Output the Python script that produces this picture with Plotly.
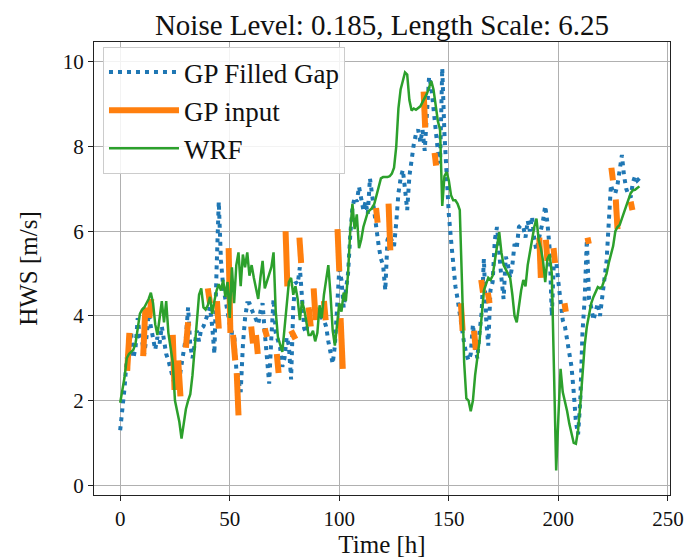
import plotly.graph_objects as go

# ---------------- data ----------------
gp_filled = [
    1.3, 1.75, 2.3, 3.0, 3.3, 3.6, 3.0, 3.25, 3.95, 3.5,
    3.4, 3.1, 3.5, 4.05, 3.75, 3.5, 3.2, 3.5, 3.35, 3.75,
    3.4, 3.1, 2.95, 2.75, 2.6, 2.35, 2.7, 2.5, 2.85, 3.2,
    3.5, 4.2, 3.3, 3.0, 3.3, 3.65, 3.4, 3.7, 3.75, 3.9,
    4.0, 4.2, 3.75, 3.1, 5.1, 6.7, 5.3, 4.7, 4.4, 4.05,
    3.8, 3.6, 3.6, 2.75, 2.45, 2.2, 3.3, 3.95, 4.3, 4.3,
    4.15, 4.05, 3.9, 3.8, 4.1, 4.3, 3.6, 3.0, 2.4, 3.5,
    4.4, 3.6, 3.4, 3.25, 2.8, 3.0, 3.5, 3.3, 2.5, 4.2,
    4.8, 4.75, 5.15, 4.45, 3.7, 3.6, 4.0, 4.15, 4.2, 4.2,
    4.1, 4.05, 3.95, 3.9, 3.75, 3.4, 3.15, 2.87, 3.3, 4.4,
    5.1, 4.85, 4.2, 4.6, 5.0, 5.9, 6.55, 6.8, 6.7, 7.05,
    6.8, 6.5, 6.7, 6.4, 7.25, 6.8, 6.5, 5.95, 5.65, 5.35,
    5.2, 4.6, 5.8, 5.9, 5.8, 5.65, 6.2, 6.9, 7.25, 7.45,
    7.0, 6.5, 7.3, 7.7, 8.05, 8.3, 8.4, 8.1, 8.4, 7.9,
    8.8, 9.65, 9.4, 8.9, 8.3, 7.9, 7.6, 9.85, 8.3, 7.2,
    6.4, 5.8, 5.2, 4.7, 4.4, 4.0, 3.6, 3.35, 3.1, 2.95,
    3.1, 3.8, 3.3, 3.0, 3.6, 4.1, 5.35, 3.95, 3.3, 4.6,
    4.8, 5.8, 6.1, 5.4, 4.9, 4.4, 5.4, 5.2, 4.9, 5.2,
    5.7, 5.6, 6.1, 6.15, 6.1, 5.85, 6.25, 6.0, 6.35, 5.8,
    5.55, 5.8, 6.0, 6.25, 6.6, 6.2, 5.6, 4.0, 5.35, 5.3,
    4.8, 4.3, 3.9, 3.75, 3.45, 3.1, 2.8, 2.2, 1.5, 1.2,
    2.0, 3.6, 4.4, 5.8, 4.4, 4.2, 3.9, 4.1, 4.3, 4.0,
    4.4, 4.8, 5.3, 6.2, 7.1, 6.9, 6.9, 7.1, 7.4, 7.8,
    7.3, 7.0, 6.85, 6.8, 7.15, 7.3, 7.2, 7.25,
]

wrf = [
    1.95, 2.25, 2.55, 3.0, 3.1, 3.15, 3.2, 3.35, 3.7, 4.05,
    4.15, 4.2, 4.3, 4.4, 4.55, 4.3, 3.8, 3.55, 3.95, 4.35,
    3.85, 4.35, 3.6, 3.2, 2.9, 2.0, 1.75, 1.5, 1.1, 1.5,
    1.8, 2.0, 2.15, 2.6, 3.2, 3.75, 4.5, 4.65, 4.2, 4.15,
    4.25, 4.45, 4.05, 4.35, 4.6, 4.75, 4.6, 4.85, 4.45, 4.8,
    3.95, 5.15, 4.3, 5.2, 5.5, 4.7, 5.45, 5.15, 5.5, 4.95,
    5.2, 4.9, 4.6, 4.4, 4.9, 5.3, 4.65, 4.8, 5.0, 5.15,
    5.5, 4.1, 3.5, 3.3, 3.15, 3.7, 4.2, 4.8, 4.9, 4.5,
    4.7, 4.4, 3.9, 4.35, 4.15, 3.85, 3.55, 3.55, 3.65, 3.4,
    3.6, 4.25, 3.95, 4.5, 4.9, 5.2, 4.5, 3.65, 3.3, 3.8,
    4.3, 4.1, 4.55, 4.35, 5.0, 6.0, 6.65, 6.05, 6.4, 5.6,
    5.8, 6.1, 6.3, 6.45, 6.5, 6.55, 6.65, 6.85, 7.1, 7.25,
    7.28, 7.28, 7.28, 7.3, 7.36, 7.5, 8.0, 8.9, 9.35, 9.55,
    9.75, 9.7, 9.1, 8.85, 8.9, 8.87, 8.9, 8.95, 9.05, 9.15,
    9.25, 9.4, 9.55, 9.35, 9.0, 8.6, 8.4, 6.6, 7.3, 7.4,
    7.2, 6.85, 6.73, 6.73, 6.65, 6.5, 4.8, 2.9, 2.05, 2.0,
    1.75, 2.0, 2.6, 3.0, 3.4, 4.0, 4.6, 4.75, 4.9, 4.85,
    4.95, 5.3, 5.7, 5.98, 5.5, 5.2, 5.1, 5.0, 4.9, 4.5,
    4.0, 3.85, 4.3, 4.6, 4.85, 4.7, 5.2, 5.5, 5.9, 6.1,
    6.3, 5.8, 5.6, 5.3, 4.8, 5.35, 5.45, 5.0, 2.7, 0.35,
    1.6, 2.75, 2.2, 2.0, 1.75, 1.45, 1.2, 1.0, 0.98, 1.3,
    1.9, 2.7, 3.3, 3.75, 4.05, 4.3, 4.45, 4.55, 4.68, 4.65,
    4.7, 4.85, 5.0, 5.25, 5.45, 5.65, 6.0, 6.1, 6.15, 6.3,
    6.45, 6.6, 6.8, 6.9, 6.97, 6.98, 7.02, 7.06,
]

# GP input: short observed pieces (time [h], value [m/s]); None marks a gap
gp_input_t = [
    3.2, 4.2, None, 10.5, 11.5, None, 13.3, 14.2, None, 24.0, 24.8, None,
    26.5, 27.5, None, 30.0, 31.0, None, 40.0, 41.0, None, 44.2, 45.0, None,
    49.5, 50.3, None, 51.5, 52.5, None, 53.2, 54.0, None, 59.8, 60.6, None,
    62.0, 62.8, None, 66.0, 67.0, None, 71.5, 72.3, None, 75.5, 76.3, None,
    78.0, 80.0, None, 81.8, 82.6, None, 86.0, 87.0, None, 88.3, 89.2, None,
    93.0, 93.8, None, 99.2, 100.0, None, 100.6, 101.6, None, 116.8, 117.5, None,
    122.5, 123.3, None, 138.5, 139.2, None, 143.5, 144.2, None, 155.5, 156.3, None,
    161.5, 162.3, None, 164.8, 165.6, None, 167.8, 168.6, None, 191.3, 192.0, None,
    194.3, 195.0, None, 197.8, 198.5, None, 202.8, 203.4, None, 213.3, 213.9, None,
    224.2, 224.9, None, 226.2, 227.0, None, 233.0, 233.8,
]
gp_input_v = [
    2.7, 3.6, None, 3.05, 4.2, None, 3.95, 4.4, None, 3.55, 2.25, None,
    2.95, 2.1, None, 3.25, 3.85, None, 4.65, 4.3, None, 4.35, 3.7, None,
    5.6, 3.6, None, 3.55, 2.95, None, 2.65, 1.65, None, 3.75, 3.35, None,
    3.55, 3.1, None, 3.7, 3.5, None, 3.1, 2.65, None, 6.0, 4.7, None,
    3.65, 3.45, None, 5.85, 5.25, None, 4.2, 3.75, None, 4.65, 3.9, None,
    4.35, 3.9, None, 6.05, 5.05, None, 3.95, 2.75, None, 6.55, 6.2, None,
    6.65, 5.55, None, 9.3, 8.45, None, 7.85, 7.55, None, 4.3, 3.65, None,
    3.65, 3.2, None, 4.85, 4.55, None, 4.55, 4.3, None, 5.85, 4.9, None,
    5.8, 5.3, None, 5.6, 5.25, None, 4.3, 4.1, None, 5.85, 5.7, None,
    7.5, 7.2, None, 6.75, 6.05, None, 6.7, 6.5,
]

hours = list(range(len(wrf)))

x_ticks = [0, 50, 100, 150, 200, 250]
y_ticks = [0, 2, 4, 6, 8, 10]

title_text = "Noise Level: 0.185, Length Scale: 6.25"

# ---------------- figure ----------------
SERIF = "Liberation Serif, Times New Roman, serif"

fig = go.Figure()
fig.add_trace(go.Scatter(
    x=hours, y=gp_filled, mode="lines", name="GP Filled Gap",
    line=dict(color="#1f77b4", width=4, dash="4px,5px"),
))
fig.add_trace(go.Scatter(
    x=gp_input_t, y=gp_input_v, mode="lines", name="GP input",
    line=dict(color="#ff7f0e", width=6), connectgaps=False,
))
fig.add_trace(go.Scatter(
    x=hours, y=wrf, mode="lines", name="WRF",
    line=dict(color="#2ca02c", width=2.5),
))

axis_common = dict(
    showgrid=True, gridcolor="#b0b0b0", gridwidth=1,
    showline=True, linecolor="#222222", linewidth=1.2, mirror=True,
    ticks="outside", ticklen=5, tickcolor="#222222", tickwidth=1,
    zeroline=False, automargin=False,
    tickfont=dict(family=SERIF, size=21, color="#111111"),
)

# the page body adds an 8px offset, so the figure is sized to end at the window edge
fig.update_layout(
    width=684, height=552,
    margin=dict(l=86, r=22, t=34, b=65),
    paper_bgcolor="white", plot_bgcolor="white",
    title=dict(text=title_text, x=0.5, xref="paper", xanchor="center",
               y=0.97, yanchor="middle", yref="container",
               font=dict(family=SERIF, size=29, color="#111111")),
    xaxis=dict(range=[-11.95, 250.95], tickvals=x_ticks,
               title=dict(text="Time [h]", standoff=3,
                          font=dict(family=SERIF, size=25, color="#111111")),
               **axis_common),
    yaxis=dict(range=[-0.23, 10.47], tickvals=y_ticks,
               title=dict(text="HWS [m/s]", standoff=17,
                          font=dict(family=SERIF, size=25, color="#111111")),
               **axis_common),
    legend=dict(x=0.0156, y=0.989, xanchor="left", yanchor="top",
                bgcolor="rgba(255,255,255,0.85)", bordercolor="#cccccc",
                borderwidth=1, font=dict(family=SERIF, size=27, color="#111111"),
                itemwidth=70, tracegroupgap=0),
    showlegend=True,
)

fig.write_html("out.html")
